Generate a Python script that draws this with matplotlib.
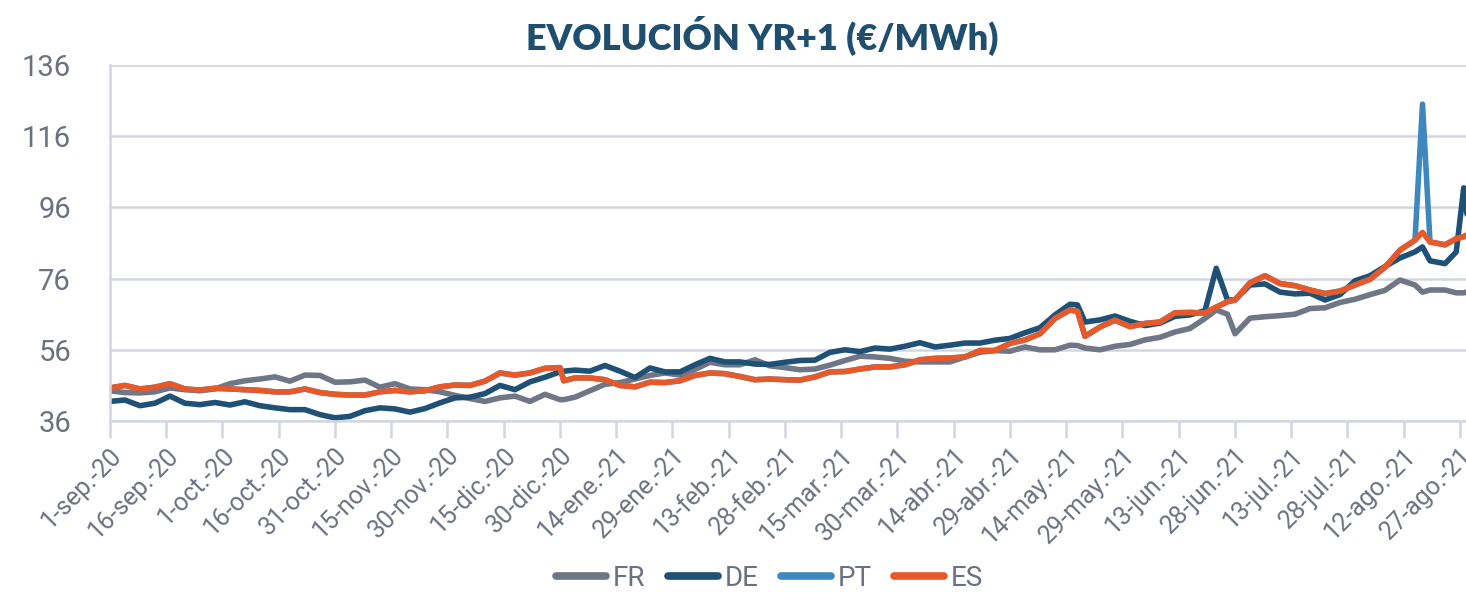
import numpy as np
import pandas as pd
import matplotlib
matplotlib.use('Agg')
from matplotlib import pyplot as plt

# fechas de las muestras
dates = [
    '2020-09-01', '2020-09-05', '2020-09-09', '2020-09-13', '2020-09-17', '2020-09-21',
    '2020-09-25', '2020-09-29', '2020-10-03', '2020-10-07', '2020-10-11', '2020-10-15',
    '2020-10-19', '2020-10-23', '2020-10-27', '2020-10-31', '2020-11-04', '2020-11-08',
    '2020-11-12', '2020-11-16', '2020-11-20', '2020-11-24', '2020-11-28', '2020-12-02',
    '2020-12-06', '2020-12-10', '2020-12-14', '2020-12-18', '2020-12-22', '2020-12-26',
    '2020-12-30', '2020-12-31', '2021-01-03', '2021-01-07', '2021-01-11', '2021-01-15',
    '2021-01-19', '2021-01-23', '2021-01-27', '2021-01-31', '2021-02-04', '2021-02-08',
    '2021-02-12', '2021-02-16', '2021-02-20', '2021-02-24', '2021-02-28', '2021-03-04',
    '2021-03-08', '2021-03-12', '2021-03-16', '2021-03-20', '2021-03-24', '2021-03-28',
    '2021-04-01', '2021-04-05', '2021-04-09', '2021-04-13', '2021-04-17', '2021-04-21',
    '2021-04-25', '2021-04-29', '2021-05-03', '2021-05-07', '2021-05-11', '2021-05-15',
    '2021-05-17', '2021-05-19', '2021-05-23', '2021-05-27', '2021-05-31', '2021-06-04',
    '2021-06-08', '2021-06-12', '2021-06-16', '2021-06-20', '2021-06-23', '2021-06-26',
    '2021-06-28', '2021-07-02', '2021-07-06', '2021-07-10', '2021-07-14', '2021-07-18',
    '2021-07-22', '2021-07-26', '2021-07-30', '2021-08-03', '2021-08-07', '2021-08-11',
    '2021-08-15', '2021-08-17', '2021-08-19', '2021-08-23', '2021-08-26', '2021-08-28',
    '2021-08-29',
]

fr = [
    44.5, 44.0, 43.9, 44.2, 45.3, 44.8, 44.5, 45.0, 46.5, 47.3, 47.8, 48.4,
    47.2, 48.9, 48.8, 46.9, 47.0, 47.5, 45.5, 46.5, 45.0, 44.8, 44.2, 43.2,
    42.3, 41.5, 42.5, 43.0, 41.5, 43.5, 42.0, 42.0, 42.7, 44.5, 46.3, 46.8,
    47.8, 48.8, 49.5, 48.9, 50.5, 52.5, 51.8, 51.8, 53.2, 51.5, 51.0, 50.4,
    50.6, 51.7, 53.0, 54.2, 54.0, 53.6, 52.8, 52.6, 52.6, 52.6, 54.0, 55.3,
    55.8, 55.6, 56.8, 56.0, 56.0, 57.3, 57.2, 56.5, 56.0, 57.0, 57.5, 58.8,
    59.5, 61.0, 62.0, 64.8, 67.2, 66.0, 60.5, 64.9, 65.3, 65.6, 66.0, 67.6,
    67.8, 69.3, 70.2, 71.5, 72.7, 75.6, 74.2, 72.2, 72.8, 72.8, 72.0, 72.0,
    72.3,
]

de = [
    41.5, 41.9, 40.3, 41.0, 43.0, 41.0, 40.6, 41.2, 40.5, 41.4, 40.3, 39.7,
    39.2, 39.2, 37.8, 36.9, 37.3, 38.9, 39.7, 39.4, 38.5, 39.5, 41.1, 42.5,
    42.7, 43.7, 46.0, 44.8, 47.0, 48.3, 49.8, 50.0, 50.3, 50.0, 51.6, 50.0,
    48.2, 50.9, 49.8, 49.8, 51.8, 53.6, 52.6, 52.6, 52.0, 51.9, 52.5, 53.0,
    53.1, 55.3, 56.0, 55.5, 56.5, 56.2, 57.0, 58.0, 56.8, 57.3, 57.9, 57.9,
    58.7, 59.2, 60.8, 62.2, 65.8, 68.8, 68.6, 63.8, 64.4, 65.5, 64.0, 62.8,
    63.5, 65.4, 65.8, 67.0, 78.9, 70.0, 70.0, 74.2, 74.5, 72.2, 71.7, 71.9,
    70.0, 71.5, 75.4, 76.8, 79.4, 81.8, 83.5, 84.9, 81.0, 80.2, 83.5, 101.5,
    93.0,
]

pt = [
    45.3, 46.0, 45.0, 45.5, 46.5, 45.0, 44.7, 45.2, 45.0, 44.8, 44.6, 44.2,
    44.2, 45.0, 44.0, 43.5, 43.3, 43.3, 44.2, 44.6, 44.2, 44.5, 45.6, 46.1,
    46.0, 47.2, 49.5, 48.9, 49.5, 50.8, 51.0, 47.3, 48.1, 48.1, 47.6, 46.0,
    45.6, 46.9, 46.8, 47.3, 48.8, 49.5, 49.3, 48.5, 47.6, 47.8, 47.6, 47.5,
    48.4, 49.8, 49.9, 50.6, 51.2, 51.2, 51.8, 53.2, 53.6, 53.7, 54.0, 55.8,
    55.8, 57.8, 58.8, 60.5, 64.8, 67.2, 66.8, 59.8, 62.4, 64.3, 62.5, 63.4,
    63.8, 66.4, 66.5, 66.3, 68.0, 69.5, 70.0, 74.8, 76.8, 74.6, 74.0, 72.8,
    71.8, 72.5, 74.2, 75.8, 79.2, 84.0, 86.8, 125.0, 86.3, 85.5, 87.2, 87.8,
    88.3,
]

es = [
    45.3, 46.0, 45.0, 45.5, 46.5, 45.0, 44.7, 45.2, 45.0, 44.8, 44.6, 44.2,
    44.2, 45.0, 44.0, 43.5, 43.3, 43.3, 44.2, 44.6, 44.2, 44.5, 45.6, 46.1,
    46.0, 47.2, 49.5, 48.9, 49.5, 50.8, 51.0, 47.3, 48.1, 48.1, 47.6, 46.0,
    45.6, 46.9, 46.8, 47.3, 48.8, 49.5, 49.3, 48.5, 47.6, 47.8, 47.6, 47.5,
    48.4, 49.8, 49.9, 50.6, 51.2, 51.2, 51.8, 53.2, 53.6, 53.7, 54.0, 55.8,
    55.8, 57.8, 58.8, 60.5, 64.8, 67.2, 66.8, 59.8, 62.4, 64.3, 62.5, 63.4,
    63.8, 66.4, 66.5, 66.3, 68.0, 69.5, 70.0, 74.8, 76.8, 74.6, 74.0, 72.8,
    71.8, 72.5, 74.2, 75.8, 79.2, 84.0, 86.8, 89.0, 86.3, 85.5, 87.2, 87.8,
    88.3,
]

series = ['FR', 'DE', 'PT', 'ES']
colors = ['#6f7686', '#1f5075', '#3f88bf', '#e8592a']
months_es = ['ene', 'feb', 'mar', 'abr', 'may', 'jun',
             'jul', 'ago', 'sep', 'oct', 'nov', 'dic']

plt.rcParams['font.family'] = ['Roboto', 'DejaVu Sans']

x = pd.to_datetime(dates)
start = pd.Timestamp('2020-09-01')

fig = plt.figure(figsize=(14.66, 5.95), dpi=100)
ax = fig.add_axes([0.075, 0.2924, 0.925, 0.5984])

for name, vals, c in zip(series, [fr, de, pt, es], colors):
    ax.plot(x, vals, color=c, lw=4.0, label=name, solid_capstyle='round',
            solid_joinstyle='round')

ax.set_ylim(36, 136)
ax.set_yticks(np.arange(36, 137, 20))
ax.set_xlim(start, start + pd.Timedelta(days=361.6))

ticks = pd.date_range(start, periods=25, freq='15D')
ax.set_xticks(ticks)
ax.set_xticklabels(['%d-%s.-%s' % (t.day, months_es[t.month - 1], t.strftime('%y'))
                    for t in ticks], rotation=45, ha='right', va='top',
                   rotation_mode='anchor')

grid_c = '#d3d6e0'
ax.grid(axis='y', color=grid_c, lw=1.8)
ax.set_axisbelow(True)
for s in ['top', 'right']:
    ax.spines[s].set_visible(False)
ax.spines['left'].set_color(grid_c)
ax.spines['bottom'].set_color(grid_c)
ax.spines['left'].set_linewidth(1.8)
ax.spines['bottom'].set_linewidth(1.8)
ax.tick_params(axis='x', length=12, width=1.8, color=grid_c, labelsize=18,
               labelcolor='#6b7180', pad=4)
ax.tick_params(axis='y', length=0, labelsize=21, labelcolor='#6b7180', pad=28)

fig.text(0.52, 0.94, 'EVOLUCIÓN YR+1 (€/MWh)', ha='center', va='center',
         fontsize=26, fontweight='heavy', color='#1f4e6e', family=['Lato', 'DejaVu Sans'])

leg = fig.legend(loc='center', bbox_to_anchor=(0.525, 0.028), ncol=4, frameon=False,
                 fontsize=20, handlelength=1.8, handletextpad=0.25, columnspacing=0.8,
                 labelcolor='#6b7180')
for h in leg.get_lines():
    h.set_linewidth(5.5)

fig.savefig('out.png', dpi=100)
